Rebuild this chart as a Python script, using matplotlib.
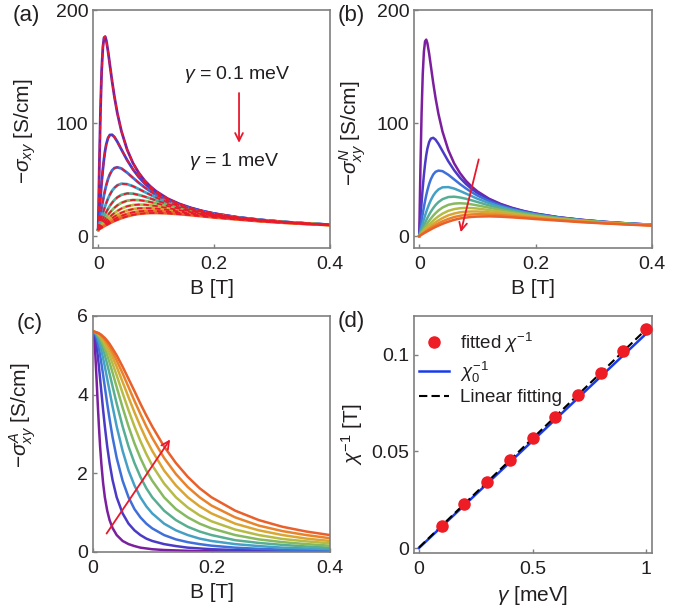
import numpy as np
import matplotlib
matplotlib.use("Agg")
import matplotlib.pyplot as plt

# magnetic field grid [T]
b_field = [0, 0.002, 0.004, 0.006, 0.008, 0.010, 0.012, 0.014, 0.017, 0.020,
           0.024, 0.028, 0.033, 0.040, 0.050, 0.060, 0.070, 0.080, 0.090, 0.10,
           0.12, 0.14, 0.16, 0.18, 0.20, 0.24, 0.28, 0.32, 0.36, 0.40]

# -sigma_xy^N [S/cm], gamma = 0.1 ... 1 meV
sigma_n = [
    [0.0, 58.7, 108.0, 142.7, 163.1, 172.3, 173.8, 170.7, 161.5, 150.4, 135.6, 122.3, 108.1, 92.4, 76.0,
     64.3, 55.7, 49.0, 43.8, 39.5, 33.0, 28.4, 24.9, 22.1, 19.9, 16.6, 14.3, 12.5, 11.1, 10.0],
    [0.0, 15.0, 29.4, 42.5, 54.0, 63.6, 71.4, 77.3, 83.2, 86.2, 86.9, 85.3, 81.6, 75.2, 66.1,
     58.2, 51.6, 46.2, 41.7, 38.0, 32.2, 27.8, 24.5, 21.9, 19.7, 16.5, 14.2, 12.4, 11.1, 10.0],
    [0.0, 6.7, 13.3, 19.6, 25.5, 31.0, 36.0, 40.4, 46.0, 50.3, 54.4, 56.8, 57.9, 57.4, 54.2,
     50.1, 46.0, 42.2, 38.8, 35.8, 30.8, 26.9, 23.9, 21.4, 19.4, 16.3, 14.1, 12.4, 11.0, 9.9],
    [0.0, 3.8, 7.5, 11.2, 14.7, 18.1, 21.2, 24.2, 28.3, 31.8, 35.7, 38.6, 41.2, 43.1, 43.3,
     42.0, 39.9, 37.6, 35.3, 33.0, 29.1, 25.8, 23.1, 20.9, 19.0, 16.1, 13.9, 12.3, 10.9, 9.9],
    [0.0, 2.4, 4.8, 7.2, 9.5, 11.7, 13.9, 16.0, 18.9, 21.6, 24.7, 27.4, 30.0, 32.6, 34.5,
     34.8, 34.1, 33.0, 31.6, 30.1, 27.1, 24.5, 22.2, 20.2, 18.5, 15.8, 13.7, 12.1, 10.8, 9.8],
    [0.0, 1.7, 3.4, 5.0, 6.6, 8.2, 9.8, 11.3, 13.5, 15.5, 18.0, 20.2, 22.6, 25.2, 27.6,
     28.7, 29.0, 28.7, 28.0, 27.1, 25.1, 23.0, 21.1, 19.4, 17.9, 15.4, 13.5, 12.0, 10.7, 9.7],
    [0.0, 1.2, 2.5, 3.7, 4.9, 6.1, 7.2, 8.4, 10.1, 11.6, 13.6, 15.4, 17.4, 19.8, 22.3,
     23.8, 24.6, 24.9, 24.7, 24.3, 23.0, 21.5, 20.0, 18.5, 17.2, 15.0, 13.2, 11.8, 10.6, 9.6],
    [0.0, 0.9, 1.9, 2.8, 3.8, 4.7, 5.6, 6.5, 7.8, 9.0, 10.6, 12.1, 13.8, 15.9, 18.3,
     19.9, 21.0, 21.5, 21.7, 21.7, 21.0, 20.0, 18.8, 17.6, 16.5, 14.5, 12.9, 11.6, 10.4, 9.5],
    [0.0, 0.7, 1.5, 2.2, 3.0, 3.7, 4.4, 5.1, 6.2, 7.2, 8.5, 9.7, 11.2, 13.0, 15.1,
     16.8, 17.9, 18.7, 19.1, 19.3, 19.1, 18.5, 17.6, 16.7, 15.8, 14.1, 12.6, 11.3, 10.3, 9.4],
    [0.0, 0.6, 1.2, 1.8, 2.4, 3.0, 3.6, 4.2, 5.0, 5.9, 7.0, 8.0, 9.2, 10.8, 12.7,
     14.3, 15.5, 16.3, 16.9, 17.2, 17.4, 17.1, 16.5, 15.8, 15.0, 13.6, 12.2, 11.1, 10.1, 9.2],
]

# -sigma_xy^A [S/cm], gamma = 0.1 ... 1 meV
sigma_a = [
    [5.60, 5.44, 5.00, 4.40, 3.77, 3.19, 2.68, 2.26, 1.76, 1.39, 1.05, 0.81, 0.61, 0.43, 0.28,
     0.20, 0.15, 0.11, 0.09, 0.07, 0.05, 0.04, 0.03, 0.02, 0.02, 0.01, 0.01, 0.01, 0.01, 0.00],
    [5.60, 5.56, 5.44, 5.24, 5.00, 4.71, 4.40, 4.09, 3.62, 3.19, 2.68, 2.26, 1.83, 1.39, 0.98,
     0.72, 0.55, 0.43, 0.34, 0.28, 0.20, 0.15, 0.11, 0.09, 0.07, 0.05, 0.04, 0.03, 0.02, 0.02],
    [5.60, 5.58, 5.53, 5.44, 5.31, 5.17, 5.00, 4.81, 4.51, 4.19, 3.77, 3.38, 2.92, 2.39, 1.81,
     1.39, 1.09, 0.88, 0.72, 0.60, 0.43, 0.32, 0.25, 0.20, 0.16, 0.11, 0.08, 0.06, 0.05, 0.04],
    [5.60, 5.59, 5.56, 5.51, 5.44, 5.35, 5.24, 5.13, 4.93, 4.71, 4.40, 4.09, 3.70, 3.19, 2.57,
     2.07, 1.69, 1.39, 1.16, 0.98, 0.72, 0.55, 0.43, 0.34, 0.28, 0.20, 0.15, 0.11, 0.09, 0.07],
    [5.60, 5.59, 5.57, 5.54, 5.49, 5.44, 5.37, 5.29, 5.15, 5.00, 4.77, 4.53, 4.21, 3.77, 3.19,
     2.68, 2.26, 1.91, 1.62, 1.39, 1.05, 0.81, 0.64, 0.52, 0.43, 0.30, 0.23, 0.18, 0.14, 0.11],
    [5.60, 5.60, 5.58, 5.56, 5.53, 5.48, 5.44, 5.38, 5.28, 5.17, 5.00, 4.81, 4.56, 4.19, 3.67,
     3.19, 2.76, 2.39, 2.07, 1.81, 1.39, 1.09, 0.88, 0.72, 0.60, 0.43, 0.32, 0.25, 0.20, 0.16],
    [5.60, 5.60, 5.59, 5.57, 5.55, 5.51, 5.48, 5.44, 5.36, 5.27, 5.14, 5.00, 4.79, 4.49, 4.04,
     3.60, 3.19, 2.82, 2.49, 2.20, 1.74, 1.39, 1.13, 0.93, 0.78, 0.57, 0.43, 0.33, 0.27, 0.22],
    [5.60, 5.60, 5.59, 5.58, 5.56, 5.53, 5.51, 5.47, 5.42, 5.35, 5.24, 5.13, 4.96, 4.71, 4.32,
     3.93, 3.55, 3.19, 2.86, 2.57, 2.07, 1.69, 1.39, 1.16, 0.98, 0.72, 0.55, 0.43, 0.34, 0.28],
    [5.60, 5.60, 5.59, 5.58, 5.57, 5.55, 5.53, 5.50, 5.45, 5.40, 5.31, 5.22, 5.08, 4.87, 4.54,
     4.19, 3.84, 3.51, 3.19, 2.90, 2.39, 1.98, 1.65, 1.39, 1.18, 0.88, 0.67, 0.53, 0.43, 0.35],
    [5.60, 5.60, 5.59, 5.58, 5.57, 5.56, 5.54, 5.52, 5.48, 5.44, 5.37, 5.29, 5.17, 5.00, 4.71,
     4.40, 4.09, 3.77, 3.47, 3.19, 2.68, 2.26, 1.91, 1.62, 1.39, 1.05, 0.81, 0.64, 0.52, 0.43],
]

# panel (d)
gamma = [0.1, 0.2, 0.3, 0.4, 0.5, 0.6, 0.7, 0.8, 0.9, 1.0]
chi_inv = [0.0115, 0.0228, 0.0342, 0.0455, 0.0567, 0.0679, 0.0792, 0.0905, 0.1017, 0.1132]
gamma_line = [0, 1.0]
chi0_line = [0, 0.1108]

colors = ['#7b1f9e', '#4a3ac6', '#3f6fd9', '#45a0c6', '#58ae92',
          '#86b960', '#b6bb45', '#d9a634', '#e8832b', '#e9602a']
red = '#e8192c'
gray = '#7f7f7f'
txt = '#231f20'

plt.rcParams['font.family'] = ['Liberation Sans', 'DejaVu Sans']
plt.rcParams['font.size'] = 14
plt.rcParams['mathtext.fontset'] = 'custom'
plt.rcParams['mathtext.rm'] = 'Liberation Sans'
plt.rcParams['mathtext.it'] = 'Liberation Sans:italic'
plt.rcParams['text.color'] = txt
plt.rcParams['axes.labelcolor'] = txt

sig_n = np.array(sigma_n)
sig_a = np.array(sigma_a)
sig_total = sig_n + sig_a

fig = plt.figure(figsize=(6.93, 6.14), dpi=100)
ax_a = fig.add_axes([0.1342, 0.5961, 0.3420, 0.3876])
ax_b = fig.add_axes([0.5974, 0.5961, 0.3434, 0.3876])
ax_c = fig.add_axes([0.1342, 0.1010, 0.3420, 0.3844])
ax_d = fig.add_axes([0.5974, 0.0993, 0.3434, 0.3860])

for ax in (ax_a, ax_b, ax_c, ax_d):
    for s in ax.spines.values():
        s.set_color(gray)
        s.set_linewidth(1.2)
    ax.tick_params(direction='in', length=3, width=1, color=gray,
                   labelcolor=txt, labelsize=14)
    ax.tick_params(axis='x', pad=6)
    ax.tick_params(axis='y', pad=3.5)

# (a) total = normal + anomalous, with fits on top
for i in range(10):
    ax_a.plot(b_field, sig_total[i], color=colors[i], lw=2)
for i in range(10):
    ax_a.plot(b_field, sig_total[i], color=red, lw=1.3, ls=(0, (3, 2)))
ax_a.set_xlim(-0.009, 0.4)
ax_a.set_ylim(-10.6, 200)
ax_a.set_yticks([0, 100, 200])
ax_a.set_xticks([0, 0.2, 0.4], ['0', '0.2', '0.4'])
ax_a.annotate('', xy=(0.243, 80), xytext=(0.243, 129),
              arrowprops=dict(arrowstyle='->', color=red, lw=1.3))
ax_a.text(0.24, 143, r'$\gamma$ = 0.1 meV', ha='center', va='center', fontsize=14)
ax_a.text(0.234, 65.5, r'$\gamma$ = 1 meV', ha='center', va='center', fontsize=14)
ax_a.set_xlabel('B [T]', fontsize=15)
ax_a.set_ylabel(r'$-\sigma_{xy}$ [S/cm]', fontsize=15)
ax_a.yaxis.set_label_coords(-0.232, 0.49)

# (b) normal part
for i in range(10):
    ax_b.plot(b_field, sig_n[i], color=colors[i], lw=1.8)
ax_b.set_xlim(-0.009, 0.4)
ax_b.set_ylim(-10.6, 200)
ax_b.set_yticks([0, 100, 200])
ax_b.set_xticks([0, 0.2, 0.4], ['0', '0.2', '0.4'])
ax_b.annotate('', xy=(0.0702, 1), xytext=(0.1034, 70.2),
              arrowprops=dict(arrowstyle='->', color=red, lw=1.3))
ax_b.set_xlabel('B [T]', fontsize=15)
ax_b.set_ylabel(r'$-\sigma^{N}_{xy}$ [S/cm]', fontsize=15)
ax_b.yaxis.set_label_coords(-0.193, 0.48)

# (c) anomalous part
for i in range(10):
    ax_c.plot(b_field, sig_a[i], color=colors[i], lw=1.8)
ax_c.set_xlim(0, 0.4)
ax_c.set_ylim(0, 6)
ax_c.set_yticks([0, 2, 4, 6])
ax_c.set_xticks([0, 0.2, 0.4], ['0', '0.2', '0.4'])
ax_c.annotate('', xy=(0.1328, 2.92), xytext=(0.0203, 0.41),
              arrowprops=dict(arrowstyle='->', color=red, lw=1.3))
ax_c.set_xlabel('B [T]', fontsize=15)
ax_c.set_ylabel(r'$-\sigma^{A}_{xy}$ [S/cm]', fontsize=15)
ax_c.yaxis.set_label_coords(-0.232, 0.58)

# (d) chi^-1 vs gamma
p = np.polyfit(gamma, chi_inv, 1)
ax_d.plot(gamma, chi_inv, 'o', color='#ee1c24', ms=8, label=r'fitted $\chi^{-1}$', zorder=3)
ax_d.plot(gamma_line, chi0_line, color='#1a3be8', lw=1.8, label=r'$\chi_0^{-1}$')
ax_d.plot(gamma_line, np.polyval(p, gamma_line), color='black', lw=1.5,
          ls=(0, (4, 2)), label='Linear fitting')
ax_d.set_xlim(-0.022, 1.026)
ax_d.set_ylim(-0.0026, 0.12)
ax_d.set_xticks([0, 0.5, 1], ['0', '0.5', '1'])
ax_d.set_yticks([0, 0.05, 0.1], ['0', '0.05', '0.1'])
ax_d.set_xlabel(r'$\gamma$ [meV]', fontsize=15)
ax_d.set_ylabel(r'$\chi^{-1}$ [T]', fontsize=15)
ax_d.yaxis.set_label_coords(-0.206, 0.5)
ax_d.legend(loc='upper left', bbox_to_anchor=(-0.01, 0.97), frameon=False,
            handlelength=1.6, handletextpad=0.6, borderaxespad=0.1, borderpad=0.3,
            labelspacing=0.25, fontsize=13.5)

fig.text(13 / 693, 1 - 16 / 614, '(a)', fontsize=16, va='center')
fig.text(338 / 693, 1 - 16 / 614, '(b)', fontsize=16, va='center')
fig.text(17 / 693, 1 - 323 / 614, '(c)', fontsize=16, va='center')
fig.text(338 / 693, 1 - 322 / 614, '(d)', fontsize=16, va='center')

fig.savefig("out.png")
